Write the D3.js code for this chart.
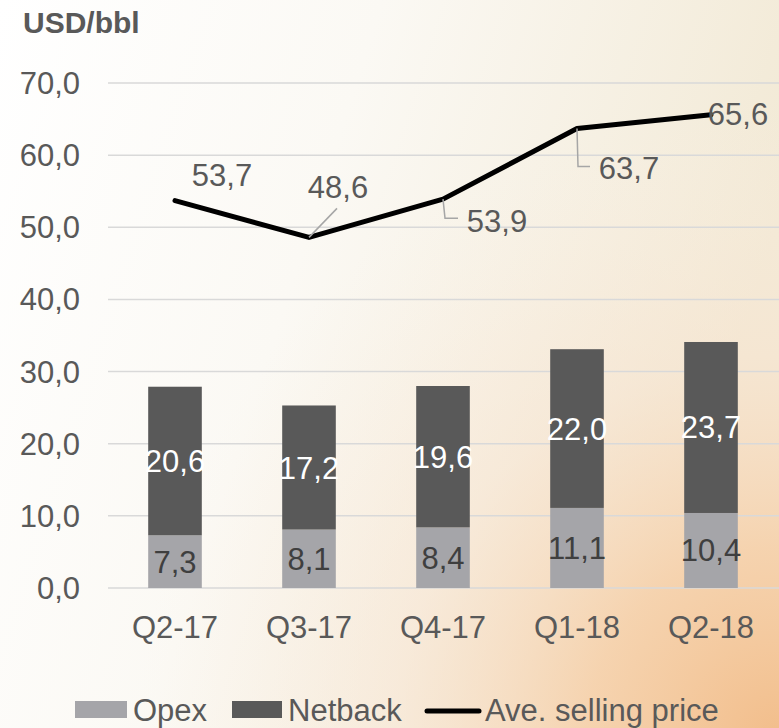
<!DOCTYPE html>
<html>
<head>
<meta charset="utf-8">
<script src="https://cdn.jsdelivr.net/npm/d3@7"></script>
<style>
  body { margin: 0; }
  svg { display: block; font-family: "Liberation Sans", Arial, sans-serif; }
</style>
</head>
<body>
<svg width="779" height="728"></svg>
<script>
// chart data
const quarters = ['Q2-17', 'Q3-17', 'Q4-17', 'Q1-18', 'Q2-18'];
const opex = [7.3, 8.1, 8.4, 11.1, 10.4];
const netback = [20.6, 17.2, 19.6, 22.0, 23.7];
const sellingPrice = [53.7, 48.6, 53.9, 63.7, 65.6];
const yTicks = [0, 10, 20, 30, 40, 50, 60, 70];

// where each price label sits relative to its point (dx, dy to baseline)
const priceLabelOffsets = [[47, -15], [29, -39], [54, 33], [52, 51], [27, 10]];
// leader lines, relative to the point
const priceLeaders = [null, [[0, 0], [28, -29]], [[0, 0], [2, 19], [15, 19]], [[0, 0], [1, 38], [13, 38]], null];

const fmt = d => d.toFixed(1).replace('.', ',');
const textCol = '#595959';
const fontSize = 31;

const svg = d3.select('svg');

// background
const defs = svg.append('defs');
const lin = defs.append('linearGradient').attr('id', 'bgLin')
  .attr('x1', 0).attr('y1', 0).attr('x2', 1).attr('y2', 0.3);
lin.append('stop').attr('offset', '0%').attr('stop-color', '#ffffff');
lin.append('stop').attr('offset', '45%').attr('stop-color', '#fbf9f4');
lin.append('stop').attr('offset', '100%').attr('stop-color', '#f2e9d5');
const rad = defs.append('radialGradient').attr('id', 'bgRad')
  .attr('gradientUnits', 'userSpaceOnUse')
  .attr('cx', 779).attr('cy', 740).attr('r', 640);
rad.append('stop').attr('offset', '0%').attr('stop-color', '#f2bd8a').attr('stop-opacity', 1);
rad.append('stop').attr('offset', '30%').attr('stop-color', '#f6cfa8').attr('stop-opacity', 0.85);
rad.append('stop').attr('offset', '60%').attr('stop-color', '#f8e3cf').attr('stop-opacity', 0.5);
rad.append('stop').attr('offset', '100%').attr('stop-color', '#fbefe3').attr('stop-opacity', 0);

svg.append('rect').attr('width', 779).attr('height', 728).attr('fill', 'url(#bgLin)');
svg.append('rect').attr('width', 779).attr('height', 728).attr('fill', 'url(#bgRad)');

const x = d3.scaleBand()
  .domain(quarters)
  .range([108, 778])
  .paddingInner(0.6)
  .paddingOuter(0.3);

const y = d3.scaleLinear()
  .domain([0, 70])
  .range([588, 83]);

// gridlines
svg.append('g')
  .selectAll('line')
  .data(yTicks)
  .enter()
  .append('line')
  .attr('x1', 108)
  .attr('x2', 779)
  .attr('y1', d => y(d))
  .attr('y2', d => y(d))
  .attr('stroke', '#d9d9d9')
  .attr('stroke-width', 1.5);

// y axis labels
const yAxis = svg.append('g')
  .attr('transform', 'translate(88,0)')
  .call(d3.axisLeft(y).tickValues(yTicks).tickFormat(fmt).tickSize(0).tickPadding(8));
yAxis.select('.domain').remove();
yAxis.selectAll('text')
  .attr('fill', textCol)
  .attr('font-size', fontSize)
  .attr('font-family', '"Liberation Sans", Arial, sans-serif')
  .attr('dy', '0.34em');

// x axis labels
const xAxis = svg.append('g')
  .attr('transform', 'translate(0,588)')
  .call(d3.axisBottom(x).tickSize(0).tickPadding(28));
xAxis.select('.domain').remove();
xAxis.selectAll('text')
  .attr('fill', textCol)
  .attr('font-size', fontSize)
  .attr('font-family', '"Liberation Sans", Arial, sans-serif');

// stacked bars
const rows = quarters.map((q, i) => ({ q, opex: opex[i], netback: netback[i], price: sellingPrice[i] }));
const stack = d3.stack().keys(['opex', 'netback'])(rows);
const barColors = { opex: '#a5a5a9', netback: '#595959' };
const labelColors = { opex: '#3f3f3f', netback: '#ffffff' };

stack.forEach(layer => {
  const g = svg.append('g');
  g.selectAll('rect')
    .data(layer)
    .enter()
    .append('rect')
    .attr('x', d => x(d.data.q))
    .attr('width', x.bandwidth())
    .attr('y', d => y(d[1]))
    .attr('height', d => y(d[0]) - y(d[1]))
    .attr('fill', barColors[layer.key]);
  g.selectAll('text')
    .data(layer)
    .enter()
    .append('text')
    .attr('x', d => x(d.data.q) + x.bandwidth() / 2)
    .attr('y', d => y((d[0] + d[1]) / 2) + 11)
    .attr('text-anchor', 'middle')
    .attr('font-size', fontSize)
    .attr('fill', labelColors[layer.key])
    .text(d => fmt(d.data[layer.key]));
});

// price line
const cx = q => x(q) + x.bandwidth() / 2;
const line = d3.line()
  .x(d => cx(d.q))
  .y(d => y(d.price));

svg.append('path')
  .datum(rows)
  .attr('d', line)
  .attr('fill', 'none')
  .attr('stroke', '#000')
  .attr('stroke-width', 5)
  .attr('stroke-linejoin', 'round')
  .attr('stroke-linecap', 'round');

// leader lines
rows.forEach((d, i) => {
  if (!priceLeaders[i]) return;
  svg.append('polyline')
    .attr('points', priceLeaders[i].map(p => [cx(d.q) + p[0], y(d.price) + p[1]].join(',')).join(' '))
    .attr('fill', 'none')
    .attr('stroke', '#a6a6a6')
    .attr('stroke-width', 1.5);
});

svg.append('g')
  .selectAll('text')
  .data(rows)
  .enter()
  .append('text')
  .attr('x', (d, i) => cx(d.q) + priceLabelOffsets[i][0])
  .attr('y', (d, i) => y(d.price) + priceLabelOffsets[i][1])
  .attr('text-anchor', 'middle')
  .attr('font-size', fontSize)
  .attr('fill', textCol)
  .text(d => fmt(d.price));

// unit title
svg.append('text')
  .attr('x', 23)
  .attr('y', 33)
  .attr('font-size', 30)
  .attr('font-weight', 'bold')
  .attr('fill', textCol)
  .text('USD/bbl');

// legend
const legend = svg.append('g');
legend.append('rect').attr('x', 75).attr('y', 701).attr('width', 52).attr('height', 17).attr('fill', barColors.opex);
legend.append('text').attr('x', 133).attr('y', 721).attr('font-size', fontSize).attr('fill', textCol).text('Opex');
legend.append('rect').attr('x', 232).attr('y', 701).attr('width', 50).attr('height', 17).attr('fill', barColors.netback);
legend.append('text').attr('x', 288).attr('y', 721).attr('font-size', fontSize).attr('fill', textCol).text('Netback');
legend.append('line').attr('x1', 427).attr('x2', 479).attr('y1', 711).attr('y2', 711)
  .attr('stroke', '#000').attr('stroke-width', 5).attr('stroke-linecap', 'round');
legend.append('text').attr('x', 485).attr('y', 721).attr('font-size', fontSize).attr('fill', textCol).text('Ave. selling price');
</script>
</body>
</html>
